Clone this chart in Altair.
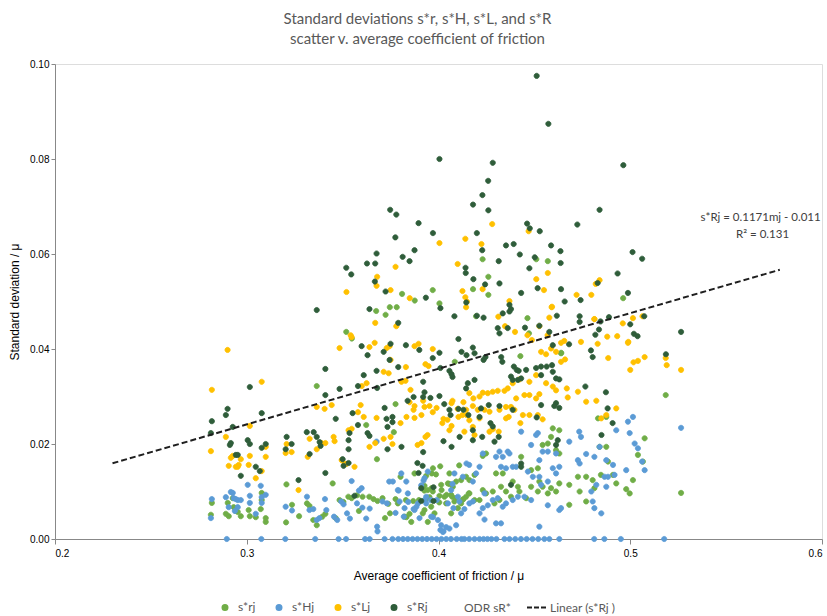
import altair as alt
import pandas as pd

FONT = "Lato"
series_names = ["s*rj", "s*Hj", "s*Lj", "s*Rj"]
extra_legend = ["ODR sR*", "Linear (s*Rj )"]
colors = ["#70AD47", "#5B9BD5", "#FFC000", "#2F5D3A"]

rj_points = [
    (0.2818, 0.0076), (0.2813, 0.0051), (0.2891, 0.0053), (0.2901, 0.0076), (0.2906, 0.0048), (0.2927, 0.0086),
    (0.2943, 0.0059), (0.2953, 0.0057), (0.2969, 0.0048), (0.2932, 0.0067), (0.3010, 0.0061), (0.3016, 0.0048),
    (0.3047, 0.0046), (0.3073, 0.0063), (0.3078, 0.0082), (0.3078, 0.0097), (0.3099, 0.0044), (0.3099, 0.0036),
    (0.3207, 0.0115), (0.3236, 0.0072), (0.3205, 0.0035), (0.3273, 0.0048), (0.3314, 0.0075), (0.3327, 0.0070),
    (0.3347, 0.0040), (0.3365, 0.0029), (0.3394, 0.0047), (0.3410, 0.0053), (0.3448, 0.0117), (0.3464, 0.0044),
    (0.3484, 0.0082), (0.3504, 0.0078), (0.3530, 0.0089), (0.3547, 0.0086), (0.3575, 0.0092), (0.3585, 0.0059),
    (0.3604, 0.0089), (0.3639, 0.0089), (0.3661, 0.0084), (0.3682, 0.0080), (0.3708, 0.0086), (0.3738, 0.0074),
    (0.3721, 0.0044), (0.3747, 0.0054), (0.3776, 0.0084), (0.3802, 0.0131), (0.3830, 0.0082), (0.3833, 0.0046),
    (0.3868, 0.0080), (0.3875, 0.0138), (0.3898, 0.0082), (0.3926, 0.0102), (0.3932, 0.0082), (0.3953, 0.0088),
    (0.3964, 0.0107), (0.3965, 0.0138), (0.3987, 0.0136), (0.4004, 0.0077), (0.4005, 0.0091), (0.4016, 0.0103),
    (0.4042, 0.0093), (0.4056, 0.0116), (0.4071, 0.0089), (0.4089, 0.0086), (0.4108, 0.0155), (0.4130, 0.0084),
    (0.4158, 0.0096), (0.3679, 0.0168), (0.3365, 0.0322), (0.3623, 0.0240), (0.3767, 0.0225), (0.3776, 0.0284),
    (0.4085, 0.0373), (0.3519, 0.0436), (0.3548, 0.0422), (0.3675, 0.0480), (0.3724, 0.0472), (0.3746, 0.0488),
    (0.3782, 0.0488), (0.3876, 0.0502), (0.4005, 0.0496), (0.3971, 0.0149), (0.4009, 0.0153), (0.4057, 0.0138),
    (0.4118, 0.0124), (0.4144, 0.0131), (0.3936, 0.0133), (0.3927, 0.0112), (0.3944, 0.0103), (0.3970, 0.0100),
    (0.4014, 0.0114), (0.4049, 0.0117), (0.4075, 0.0110), (0.4092, 0.0121), (0.4031, 0.0089), (0.4066, 0.0093),
    (0.4083, 0.0079), (0.3962, 0.0068), (0.3927, 0.0061), (0.3918, 0.0054), (0.3788, 0.0075), (0.3823, 0.0047),
    (0.3858, 0.0036), (0.3849, 0.0053), (0.3944, 0.0036), (0.3979, 0.0054), (0.4066, 0.0054), (0.4101, 0.0065),
    (0.4118, 0.0075), (0.4040, 0.0075), (0.4230, 0.0589), (0.4260, 0.0552), (0.4260, 0.0514), (0.4180, 0.0526),
    (0.3970, 0.0524), (0.3810, 0.0516), (0.4510, 0.0589), (0.4570, 0.0585), (0.4196, 0.0469), (0.4464, 0.0465),
    (0.4472, 0.0433), (0.4639, 0.0391), (0.4427, 0.0385), (0.4832, 0.0254), (0.4875, 0.0257), (0.5075, 0.0212),
    (0.5040, 0.0177), (0.5066, 0.0163), (0.5014, 0.0124), (0.4997, 0.0096), (0.4979, 0.0105), (0.4927, 0.0117),
    (0.4910, 0.0135), (0.4884, 0.0163), (0.4875, 0.0194), (0.4840, 0.0194), (0.4847, 0.0135), (0.4804, 0.0124),
    (0.4813, 0.0107), (0.4770, 0.0079), (0.4727, 0.0131), (0.4736, 0.0100), (0.4770, 0.0131), (0.4682, 0.0114),
    (0.4630, 0.0117), (0.4613, 0.0100), (0.4587, 0.0107), (0.4570, 0.0096), (0.4543, 0.0110), (0.4518, 0.0100),
    (0.4526, 0.0121), (0.4483, 0.0110), (0.4457, 0.0086), (0.4422, 0.0100), (0.4414, 0.0110), (0.4387, 0.0121),
    (0.4378, 0.0089), (0.4352, 0.0100), (0.4326, 0.0110), (0.4318, 0.0082), (0.4292, 0.0075), (0.4283, 0.0100),
    (0.4248, 0.0096), (0.4231, 0.0103), (0.4214, 0.0082), (0.4188, 0.0082), (0.4161, 0.0096), (0.4144, 0.0089),
    (0.4127, 0.0083), (0.4161, 0.0124), (0.4188, 0.0135), (0.4231, 0.0175), (0.4248, 0.0180), (0.4431, 0.0173),
    (0.4483, 0.0145), (0.4518, 0.0149), (0.4543, 0.0198), (0.4570, 0.0201), (0.4587, 0.0215), (0.4596, 0.0233),
    (0.4613, 0.0187), (0.4630, 0.0180), (0.4630, 0.0229), (0.4682, 0.0072), (0.4335, 0.0138), (0.4300, 0.0138),
    (0.4963, 0.0507), (0.4640, 0.0392), (0.5185, 0.0303), (0.5265, 0.0097),
]

Hj_points = [
    (0.2818, 0.0084), (0.2813, 0.0044), (0.2891, 0.0088), (0.2917, 0.0099), (0.2927, 0.0097), (0.2932, 0.0086),
    (0.2943, 0.0084), (0.2953, 0.0082), (0.2969, 0.0082), (0.2906, 0.0067), (0.2953, 0.0067), (0.2938, 0.0059),
    (0.3005, 0.0114), (0.3016, 0.0091), (0.3016, 0.0076), (0.3047, 0.0053), (0.3073, 0.0112), (0.3078, 0.0088),
    (0.3078, 0.0076), (0.3099, 0.0093), (0.3203, 0.0068), (0.3236, 0.0060), (0.3314, 0.0089), (0.3327, 0.0061),
    (0.3347, 0.0063), (0.3365, 0.0040), (0.3379, 0.0044), (0.3408, 0.0084), (0.3415, 0.0061), (0.3455, 0.0047),
    (0.3472, 0.0040), (0.3493, 0.0079), (0.3505, 0.0073), (0.3523, 0.0054), (0.3538, 0.0043), (0.3547, 0.0122),
    (0.3585, 0.0102), (0.3599, 0.0107), (0.3575, 0.0075), (0.3603, 0.0066), (0.3623, 0.0043), (0.3641, 0.0064),
    (0.3677, 0.0205), (0.3680, 0.0026), (0.3682, 0.0016), (0.3708, 0.0079), (0.3731, 0.0075), (0.3743, 0.0121),
    (0.3762, 0.0121), (0.3776, 0.0055), (0.3792, 0.0102), (0.3819, 0.0047), (0.3842, 0.0078), (0.3870, 0.0063),
    (0.3885, 0.0068), (0.3910, 0.0113), (0.3922, 0.0123), (0.3927, 0.0082), (0.3936, 0.0075), (0.3960, 0.0082),
    (0.3971, 0.0046), (0.3991, 0.0082), (0.4010, 0.0019), (0.4026, 0.0016), (0.4040, 0.0025), (0.4073, 0.0116),
    (0.4078, 0.0065), (0.4109, 0.0079), (0.4127, 0.0131), (0.4146, 0.0159), (0.4160, 0.0156), (0.3806, 0.0138),
    (0.3832, 0.0121), (0.3927, 0.0128), (0.3788, 0.0103), (0.3840, 0.0096), (0.3797, 0.0079), (0.3893, 0.0075),
    (0.3936, 0.0089), (0.3875, 0.0061), (0.3901, 0.0044), (0.3962, 0.0047), (0.3997, 0.0040), (0.4014, 0.0029),
    (0.4023, 0.0015), (0.4057, 0.0022), (0.4092, 0.0029), (0.4101, 0.0089), (0.4066, 0.0103), (0.4049, 0.0075),
    (0.4118, 0.0054), (0.3823, 0.0065), (0.3944, 0.0142), (0.4083, 0.0138), (0.4431, 0.0226), (0.4518, 0.0223),
    (0.4483, 0.0198), (0.4543, 0.0184), (0.4526, 0.0166), (0.4570, 0.0184), (0.4613, 0.0180), (0.4630, 0.0152),
    (0.4682, 0.0205), (0.4734, 0.0226), (0.4743, 0.0215), (0.4770, 0.0179), (0.4813, 0.0173), (0.4840, 0.0194),
    (0.4875, 0.0166), (0.4727, 0.0166), (0.4736, 0.0159), (0.4866, 0.0131), (0.4910, 0.0156), (0.4927, 0.0229),
    (0.4988, 0.0247), (0.5014, 0.0257), (0.4997, 0.0223), (0.5023, 0.0201), (0.5040, 0.0191), (0.5062, 0.0163),
    (0.5075, 0.0145), (0.4979, 0.0145), (0.4918, 0.0135), (0.4884, 0.0131), (0.4875, 0.0110), (0.4823, 0.0114),
    (0.4797, 0.0100), (0.4804, 0.0079), (0.4813, 0.0065), (0.4849, 0.0054), (0.4630, 0.0061), (0.4639, 0.0065),
    (0.4570, 0.0071), (0.4526, 0.0026), (0.4483, 0.0082), (0.4448, 0.0089), (0.4414, 0.0089), (0.4387, 0.0082),
    (0.4352, 0.0075), (0.4335, 0.0068), (0.4309, 0.0086), (0.4283, 0.0082), (0.4240, 0.0096), (0.4214, 0.0054),
    (0.4240, 0.0041), (0.4300, 0.0033), (0.4326, 0.0033), (0.4257, 0.0071), (0.4231, 0.0065), (0.4179, 0.0079),
    (0.4161, 0.0075), (0.4135, 0.0063), (0.4179, 0.0121), (0.4196, 0.0138), (0.4231, 0.0180), (0.4214, 0.0152),
    (0.4300, 0.0173), (0.4335, 0.0173), (0.4361, 0.0184), (0.4387, 0.0152), (0.4405, 0.0152), (0.4318, 0.0184),
    (0.4370, 0.0180), (0.4526, 0.0131), (0.4535, 0.0114), (0.4570, 0.0121), (0.4596, 0.0149), (0.4613, 0.0138),
    (0.4492, 0.0131), (0.4466, 0.0142), (0.4326, 0.0152), (0.4352, 0.0149), (0.4509, 0.0219), (0.5265, 0.0234),
]
Hj_zero_x = [
    0.2896, 0.3076, 0.3201, 0.3357, 0.3479, 0.3518, 0.3617, 0.3641, 0.3719, 0.3760, 0.3790, 0.3815, 0.3840,
    0.3865, 0.3890, 0.3915, 0.3940, 0.3965, 0.3990, 0.4015, 0.4040, 0.4065, 0.4095, 0.4120, 0.4135, 0.4160,
    0.4188, 0.4214, 0.4235, 0.4255, 0.4276, 0.4302, 0.4344, 0.4370, 0.4400, 0.4430, 0.4460, 0.4490, 0.4520,
    0.4552, 0.4578, 0.4630, 0.4812, 0.4865, 0.4951, 0.5177,
]

Lj_points = [
    (0.2900, 0.0398), (0.2818, 0.0314), (0.3078, 0.0331), (0.3016, 0.0238), (0.2891, 0.0215), (0.2813, 0.0185),
    (0.3099, 0.0194), (0.3099, 0.0173), (0.2917, 0.0171), (0.2927, 0.0175), (0.2969, 0.0168), (0.2906, 0.0154),
    (0.2943, 0.0152), (0.2953, 0.0152), (0.2958, 0.0156), (0.3016, 0.0175), (0.3010, 0.0156), (0.3047, 0.0128),
    (0.3078, 0.0143), (0.3484, 0.0402), (0.3542, 0.0429), (0.3547, 0.0425), (0.3780, 0.0448), (0.3670, 0.0455),
    (0.3667, 0.0413), (0.3640, 0.0404), (0.3730, 0.0402), (0.3745, 0.0406), (0.3875, 0.0406), (0.3896, 0.0411),
    (0.3970, 0.0400), (0.3750, 0.0377), (0.3830, 0.0362), (0.3932, 0.0368), (0.3948, 0.0364), (0.3714, 0.0352),
    (0.3740, 0.0349), (0.3625, 0.0328), (0.3600, 0.0322), (0.3807, 0.0331), (0.3828, 0.0333), (0.3854, 0.0314),
    (0.3406, 0.0274), (0.3365, 0.0278), (0.3443, 0.0282), (0.3594, 0.0282), (0.3580, 0.0267), (0.3610, 0.0257),
    (0.3677, 0.0255), (0.3849, 0.0288), (0.3875, 0.0280), (0.3870, 0.0272), (0.3920, 0.0291), (0.3927, 0.0278),
    (0.3953, 0.0280), (0.3990, 0.0276), (0.3970, 0.0267), (0.3911, 0.0261), (0.3875, 0.0255), (0.3833, 0.0257),
    (0.3802, 0.0244), (0.4026, 0.0253), (0.4047, 0.0251), (0.4020, 0.0244), (0.4068, 0.0286), (0.4073, 0.0291),
    (0.4130, 0.0288), (0.4100, 0.0274), (0.4125, 0.0261), (0.4146, 0.0261), (0.4104, 0.0257), (0.4068, 0.0238),
    (0.4057, 0.0229), (0.3531, 0.0229), (0.3547, 0.0232), (0.3208, 0.0200), (0.3203, 0.0181), (0.3234, 0.0183),
    (0.3318, 0.0173), (0.3328, 0.0211), (0.3365, 0.0189), (0.3390, 0.0202), (0.3410, 0.0202), (0.3458, 0.0206),
    (0.3453, 0.0215), (0.3495, 0.0166), (0.3510, 0.0158), (0.3520, 0.0158), (0.3562, 0.0152), (0.3640, 0.0194),
    (0.3670, 0.0202), (0.3714, 0.0211), (0.3760, 0.0200), (0.3750, 0.0215), (0.3891, 0.0198), (0.3911, 0.0202),
    (0.3932, 0.0215), (0.3943, 0.0219), (0.3270, 0.0103), (0.4280, 0.0663), (0.4005, 0.0623), (0.4140, 0.0632),
    (0.4224, 0.0621), (0.4470, 0.0648), (0.3776, 0.0573), (0.3680, 0.0552), (0.3677, 0.0533), (0.3520, 0.0520),
    (0.3750, 0.0524), (0.3850, 0.0507), (0.4100, 0.0579), (0.4125, 0.0522), (0.4140, 0.0509), (0.4230, 0.0526),
    (0.4510, 0.0547), (0.4570, 0.0560), (0.4550, 0.0524), (0.4370, 0.0501), (0.4840, 0.0545), (0.4820, 0.0537),
    (0.4720, 0.0514), (0.4797, 0.0514), (0.4590, 0.0488), (0.4813, 0.0463), (0.4932, 0.0427), (0.4990, 0.0415),
    (0.4830, 0.0411), (0.4885, 0.0381), (0.4144, 0.0488), (0.4148, 0.0500), (0.4312, 0.0468), (0.4347, 0.0448),
    (0.4399, 0.0436), (0.4464, 0.0429), (0.4487, 0.0419), (0.4526, 0.0448), (0.4569, 0.0429), (0.4578, 0.0466),
    (0.4592, 0.0489), (0.4639, 0.0413), (0.4656, 0.0417), (0.4743, 0.0415), (0.4813, 0.0463), (0.4880, 0.0426),
    (0.4961, 0.0454), (0.4988, 0.0413), (0.5014, 0.0465), (0.5064, 0.0469), (0.5075, 0.0383), (0.5040, 0.0375),
    (0.5017, 0.0372), (0.5000, 0.0356), (0.4927, 0.0275), (0.4875, 0.0261), (0.4849, 0.0254), (0.4823, 0.0291),
    (0.4770, 0.0289), (0.4727, 0.0310), (0.4669, 0.0317), (0.4674, 0.0298), (0.4613, 0.0313), (0.4639, 0.0373),
    (0.4660, 0.0378), (0.4613, 0.0394), (0.4587, 0.0401), (0.4561, 0.0389), (0.4535, 0.0394), (0.4509, 0.0345),
    (0.4474, 0.0331), (0.4422, 0.0336), (0.4387, 0.0328), (0.4361, 0.0317), (0.4344, 0.0312), (0.4309, 0.0312),
    (0.4283, 0.0310), (0.4257, 0.0307), (0.4231, 0.0308), (0.4214, 0.0300), (0.4182, 0.0296), (0.4161, 0.0307),
    (0.4179, 0.0280), (0.4144, 0.0272), (0.4205, 0.0272), (0.4240, 0.0272), (0.4266, 0.0268), (0.4318, 0.0272),
    (0.4352, 0.0278), (0.4378, 0.0278), (0.4405, 0.0296), (0.4448, 0.0303), (0.4474, 0.0303), (0.4509, 0.0296),
    (0.4526, 0.0305), (0.4561, 0.0328), (0.4596, 0.0321), (0.4440, 0.0261), (0.4474, 0.0261), (0.4518, 0.0261),
    (0.4543, 0.0252), (0.4427, 0.0244), (0.4352, 0.0254), (0.4366, 0.0257), (0.4396, 0.0272), (0.4283, 0.0231),
    (0.4179, 0.0236), (0.4161, 0.0250), (0.4135, 0.0226), (0.4188, 0.0219), (0.4314, 0.0226), (0.4266, 0.0226),
    (0.4214, 0.0254), (0.5190, 0.0366), (0.5265, 0.0356), (0.5185, 0.0381),
]

Rj_points = [
    (0.3016, 0.0320), (0.2900, 0.0274), (0.2891, 0.0261), (0.2818, 0.0248), (0.2813, 0.0223), (0.3078, 0.0265),
    (0.2927, 0.0236), (0.2912, 0.0198), (0.2917, 0.0202), (0.3005, 0.0208), (0.3016, 0.0200), (0.3078, 0.0192),
    (0.3099, 0.0200), (0.2943, 0.0177), (0.2953, 0.0177), (0.3047, 0.0152), (0.3068, 0.0143), (0.2969, 0.0133),
    (0.3365, 0.0482), (0.3640, 0.0484), (0.4010, 0.0486), (0.3790, 0.0455), (0.4083, 0.0469), (0.3599, 0.0406),
    (0.3750, 0.0411), (0.3830, 0.0408), (0.3714, 0.0394), (0.3630, 0.0387), (0.3410, 0.0358), (0.3745, 0.0377),
    (0.3790, 0.0362), (0.3900, 0.0398), (0.4005, 0.0392), (0.3970, 0.0381), (0.4010, 0.0360), (0.4104, 0.0421),
    (0.4120, 0.0394), (0.4146, 0.0387), (0.3610, 0.0345), (0.3677, 0.0354), (0.3484, 0.0316), (0.3580, 0.0322),
    (0.3680, 0.0318), (0.3410, 0.0303), (0.4057, 0.0354), (0.4068, 0.0347), (0.4073, 0.0341), (0.3920, 0.0331),
    (0.3927, 0.0309), (0.3920, 0.0299), (0.3958, 0.0297), (0.4005, 0.0301), (0.3870, 0.0299), (0.3839, 0.0291),
    (0.4030, 0.0284), (0.4057, 0.0272), (0.4104, 0.0274), (0.4063, 0.0261), (0.4130, 0.0272), (0.4156, 0.0261),
    (0.3719, 0.0276), (0.3760, 0.0257), (0.3729, 0.0253), (0.3760, 0.0246), (0.3734, 0.0236), (0.3464, 0.0253),
    (0.3552, 0.0265), (0.3580, 0.0240), (0.3630, 0.0223), (0.3640, 0.0217), (0.3536, 0.0223), (0.3531, 0.0208),
    (0.3531, 0.0189), (0.3208, 0.0215), (0.3203, 0.0189), (0.3234, 0.0200), (0.3313, 0.0225), (0.3349, 0.0225),
    (0.3365, 0.0215), (0.3380, 0.0204), (0.3385, 0.0196), (0.3328, 0.0179), (0.3500, 0.0168), (0.3505, 0.0154),
    (0.3531, 0.0160), (0.3734, 0.0189), (0.3807, 0.0194), (0.3410, 0.0139), (0.3270, 0.0124), (0.3890, 0.0160),
    (0.3917, 0.0154), (0.3896, 0.0139), (0.3920, 0.0183), (0.4026, 0.0206), (0.4068, 0.0194), (0.4110, 0.0215),
    (0.3562, 0.0091), (0.3910, 0.0080), (0.3974, 0.0080), (0.3910, 0.0107), (0.3974, 0.0109),
    (0.4512, 0.0975), (0.4573, 0.0874), (0.4005, 0.0800), (0.4283, 0.0792), (0.4259, 0.0754), (0.4229, 0.0724),
    (0.4180, 0.0704), (0.4260, 0.0692), (0.3748, 0.0693), (0.3780, 0.0683), (0.3896, 0.0665), (0.3775, 0.0635),
    (0.3971, 0.0644), (0.4200, 0.0644), (0.4462, 0.0664), (0.4476, 0.0654), (0.4528, 0.0648), (0.4392, 0.0621),
    (0.4352, 0.0618), (0.4228, 0.0608), (0.3677, 0.0601), (0.3519, 0.0571), (0.3545, 0.0557), (0.3627, 0.0580),
    (0.3670, 0.0580), (0.3813, 0.0594), (0.3849, 0.0585), (0.3875, 0.0608), (0.4141, 0.0571), (0.4142, 0.0560),
    (0.4182, 0.0547), (0.4314, 0.0585), (0.4424, 0.0599), (0.4474, 0.0570), (0.4502, 0.0593), (0.3668, 0.0542),
    (0.3724, 0.0521), (0.3934, 0.0508), (0.4318, 0.0538), (0.4243, 0.0536), (0.4431, 0.0518), (0.4517, 0.0528),
    (0.4145, 0.0498), (0.4370, 0.0493), (0.4378, 0.0484),
    (0.4964, 0.0787), (0.4840, 0.0693), (0.4724, 0.0662), (0.4587, 0.0618), (0.4636, 0.0606), (0.4637, 0.0581),
    (0.5012, 0.0604), (0.5062, 0.0590), (0.4934, 0.0559), (0.4639, 0.0526), (0.4830, 0.0539), (0.4741, 0.0503),
    (0.4658, 0.0500), (0.4988, 0.0518), (0.5073, 0.0469), (0.4617, 0.0470), (0.4736, 0.0469), (0.4736, 0.0457),
    (0.4845, 0.0458), (0.4889, 0.0467), (0.4837, 0.0441), (0.4818, 0.0430), (0.5000, 0.0452), (0.5019, 0.0432),
    (0.5038, 0.0427), (0.4681, 0.0410), (0.4596, 0.0408), (0.4795, 0.0397), (0.5186, 0.0389), (0.4804, 0.0383),
    (0.4370, 0.0479), (0.4335, 0.0475), (0.4235, 0.0466), (0.4200, 0.0470), (0.4309, 0.0444), (0.4361, 0.0444),
    (0.4451, 0.0445), (0.4318, 0.0433), (0.4526, 0.0449), (0.4578, 0.0436), (0.4179, 0.0403), (0.4188, 0.0391),
    (0.4235, 0.0377), (0.4245, 0.0383), (0.4327, 0.0383), (0.4333, 0.0373), (0.4393, 0.0363), (0.4408, 0.0356),
    (0.4418, 0.0354), (0.4431, 0.0338), (0.4457, 0.0356), (0.4509, 0.0360), (0.4535, 0.0363), (0.4564, 0.0363),
    (0.4596, 0.0352), (0.4592, 0.0366), (0.4535, 0.0345), (0.4613, 0.0338), (0.4630, 0.0336), (0.4766, 0.0321),
    (0.4873, 0.0309), (0.4882, 0.0275), (0.4908, 0.0244), (0.4850, 0.0219), (0.4613, 0.0286), (0.4604, 0.0280),
    (0.4630, 0.0276), (0.4535, 0.0282), (0.4512, 0.0256), (0.4387, 0.0272), (0.4318, 0.0280), (0.4262, 0.0282),
    (0.4222, 0.0275), (0.4214, 0.0257), (0.4271, 0.0244), (0.4283, 0.0237), (0.4179, 0.0229), (0.4179, 0.0208),
    (0.4228, 0.0215), (0.4292, 0.0205), (0.4314, 0.0215), (0.4431, 0.0159), (0.4431, 0.0152), (0.4378, 0.0114),
    (0.4613, 0.0198), (0.4622, 0.0208), (0.4153, 0.0328), (0.4188, 0.0335), (0.4144, 0.0317), (0.4378, 0.0342),
    (0.4387, 0.0335), (0.4414, 0.0335), (0.5265, 0.0436),
]

trend_slope = 0.1171
trend_intercept = -0.011
trend_x = [0.23, 0.578]
eq_lines = ["s*Rj = 0.1171mj - 0.011", "R\u00b2 = 0.131"]
eq_x = [0.5680, 0.5690]
eq_y = [0.0676, 0.0640]

x_ticks = [0.2, 0.3, 0.4, 0.5, 0.6]
y_ticks = [0.0, 0.02, 0.04, 0.06, 0.08, 0.10]

rows = []
for name, pts in zip(series_names, [rj_points, Hj_points, Lj_points, Rj_points]):
    for px_, py_ in pts:
        rows.append({"x": px_, "y": py_, "series": name})
    if name == "s*Hj":
        for zx in Hj_zero_x:
            rows.append({"x": zx, "y": 0.0, "series": name})
df = pd.DataFrame(rows)

trend_df = pd.DataFrame({"x": trend_x, "y": [trend_slope * v + trend_intercept for v in trend_x]})
eq_df = pd.DataFrame({"x": eq_x, "y": eq_y, "t": eq_lines})

# symbols: unit square scaled by sqrt(size)/2 = 10 px per unit
DOT = "M-0.26,0A0.26,0.26 0 1,0 0.26,0A0.26,0.26 0 1,0 -0.26,0Z"
DASH = "M-1,0H-0.5M-0.3,0H0.2M0.4,0H0.9"
domain = series_names + extra_legend
fill_range = colors + ["transparent", "transparent"]
stroke_range = colors + ["transparent", "#1F1F1F"]
shape_range = [DOT] * 4 + ["M0,0", DASH]

AX = "#8C8C8C"
TXT = "#595959"

legend = alt.Legend(
    orient="none", legendX=159, legendY=532, direction="horizontal", title=None,
    labelFont=FONT, labelFontSize=12, labelColor=TXT, symbolSize=400, symbolStrokeWidth=1.8,
    columnPadding=12, labelOffset=2,
)

x_enc = alt.X("x:Q", scale=alt.Scale(domain=[0.2, 0.6], nice=False, zero=False),
              axis=alt.Axis(values=x_ticks, format=".1f", title="Average coefficient of friction / \u03bc",
                            grid=False, tickSize=5, labelPadding=4, titlePadding=12,
                            titleFontWeight="normal", titleFontSize=12))
y_enc = alt.Y("y:Q", scale=alt.Scale(domain=[0, 0.1], nice=False),
              axis=alt.Axis(values=y_ticks, format=".2f", title="Standard deviation / \u03bc",
                            grid=False, tickSize=4, labelPadding=2, titlePadding=8,
                            titleFontWeight="normal", titleFontSize=12))

points = alt.Chart(df).mark_point(filled=True, size=400, strokeWidth=0.8, opacity=1).encode(
    x=x_enc, y=y_enc,
    fill=alt.Fill("series:N", scale=alt.Scale(domain=domain, range=fill_range), legend=legend),
    stroke=alt.Stroke("series:N", scale=alt.Scale(domain=domain, range=stroke_range), legend=legend),
    shape=alt.Shape("series:N", scale=alt.Scale(domain=domain, range=shape_range), legend=legend),
)

trend = alt.Chart(trend_df).mark_line(color="#1F1F1F", strokeWidth=2, strokeDash=[6, 3]).encode(
    x="x:Q", y="y:Q"
)

eq = alt.Chart(eq_df).mark_text(font=FONT, fontSize=11.5, color="#404040", align="center").encode(
    x="x:Q", y="y:Q", text="t:N"
)

chart = alt.layer(points, trend, eq).properties(
    width=767, height=475,
    autosize=alt.AutoSizeParams(type="none"),
    padding={"left": 55, "top": 64, "right": 5, "bottom": 77},
    title=alt.Title(
        ["Standard deviations s*r, s*H, s*L, and s*R", "scatter v. average coefficient of friction"],
        font=FONT, fontSize=15, fontWeight="normal", color=TXT, anchor="middle", offset=12, lineHeight=20,
        frame="group", dx=-21,
    ),
).configure_view(stroke=None).configure_axis(
    labelFont=FONT, titleFont=FONT, labelFontSize=13, titleFontSize=12, labelColor=TXT, titleColor=TXT,
    titleFontWeight="normal", domainColor=AX, tickColor=AX,
).configure(background="white")

chart.save("out.html", embed_options={"renderer": "svg", "actions": False})
